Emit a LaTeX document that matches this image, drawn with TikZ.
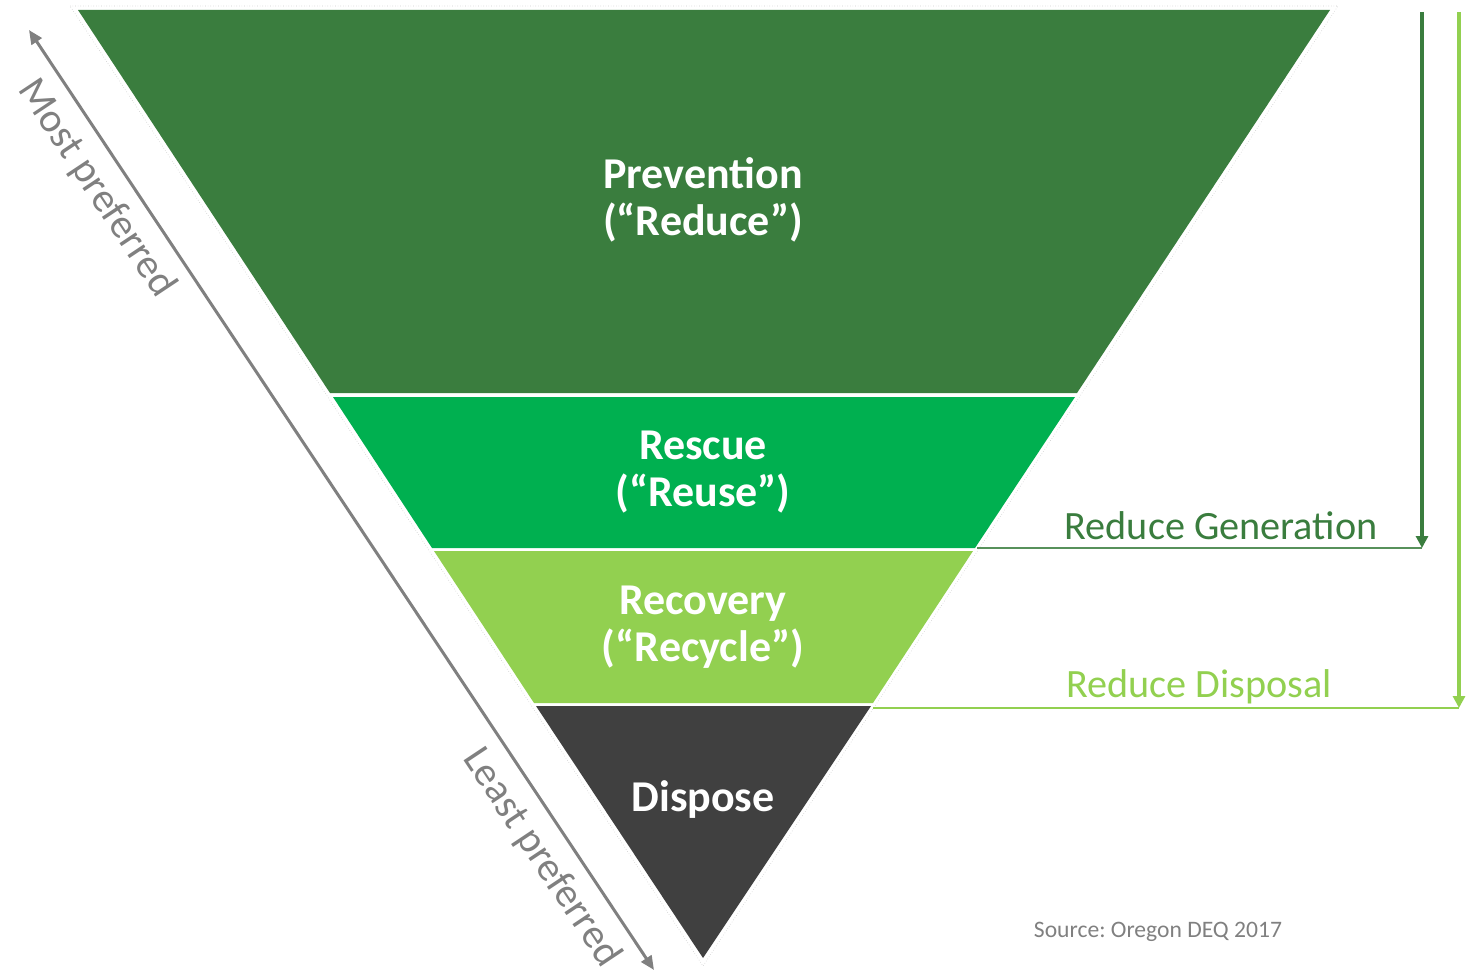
\documentclass[tikz,border=0pt]{standalone}
\usepackage{fontspec}
\setmainfont{Carlito}
\frenchspacing
\usetikzlibrary{arrows.meta,calc,positioning}

\definecolor{prevgreen}{HTML}{3A7D3E}
\definecolor{rescgreen}{HTML}{00B050}
\definecolor{recgreen}{HTML}{92D050}
\definecolor{dispgray}{HTML}{404040}
\definecolor{prefgray}{HTML}{808080}

\begin{document}
\begin{tikzpicture}[x=0.5pt,y=-0.5pt,
	band/.style={font=\bfseries\fontsize{22}{23.5}\selectfont,text=white,align=center},
	side/.style={font=\fontsize{20.1}{23}\selectfont},
	pref/.style={font=\fontsize{20.5}{23}\selectfont,text=prefgray,sloped,below=3pt},
	goal/.style={line width=2pt,-{Triangle[width=6pt,length=6pt]}}]
\useasboundingbox (0,0) rectangle (1473,973);

% funnel bands
\fill[prevgreen] (78,10) -- (1330,10) -- (1077,393) -- (330,393) -- cycle;
\fill[rescgreen] (333,397) -- (1075,397) -- (975,548) -- (432,548) -- cycle;
\fill[recgreen] (434,551) -- (973,551) -- (873,703) -- (534,703) -- cycle;
\fill[dispgray] (536,706) -- (871,706) -- (703,958) -- cycle;
\draw[gray!40,line width=0.3pt,densely dotted] (70,6) -- (1338,6) -- (703,966) -- cycle;

\node[band] (prevention) at (703,200) {Prevention\\(“Reduce”)};
\node[band] (rescue) at (703,472) {Rescue\\(“Reuse”)};
\node[band] (recovery) at (703,627) {Recovery\\(“Recycle”)};
\node[band] (dispose) at (703,800) {Dispose};

% preference arrow
\coordinate (mostend) at (29,30);
\coordinate (leastend) at (654,970);
\draw[prefgray,line width=1.5pt,{Triangle[width=6pt,length=7pt]}-{Triangle[width=6pt,length=7pt]}]
	(mostend) -- node[pref,pos=0.150] (most) {Most preferred}
	node[pref,pos=0.862] (least) {Least preferred} (leastend);

% reduce arrows
\coordinate (gentop) at (1422,12);
\coordinate (genfoot) at (1422,548);
\coordinate (resccorner) at (977,548);
\coordinate (distop) at (1459,12);
\coordinate (disfoot) at (1459,708);
\coordinate (reccorner) at (873,708);
\draw[goal,prevgreen] (gentop) -- (genfoot);
\draw[prevgreen!85,line width=0.8pt] (resccorner) -- (genfoot);
\draw[goal,recgreen] (distop) -- (disfoot);
\draw[recgreen,line width=0.8pt] (reccorner) -- (disfoot);

\node[side,text=prevgreen] (generation) at (1221,526) {Reduce Generation};
\node[side,text=recgreen] (disposal) at (1199,687) {Reduce Disposal};

\node[font=\fontsize{11.8}{14}\selectfont,text=prefgray] (source) at (1158,932) {Source: Oregon DEQ 2017};
\end{tikzpicture}
\end{document}
